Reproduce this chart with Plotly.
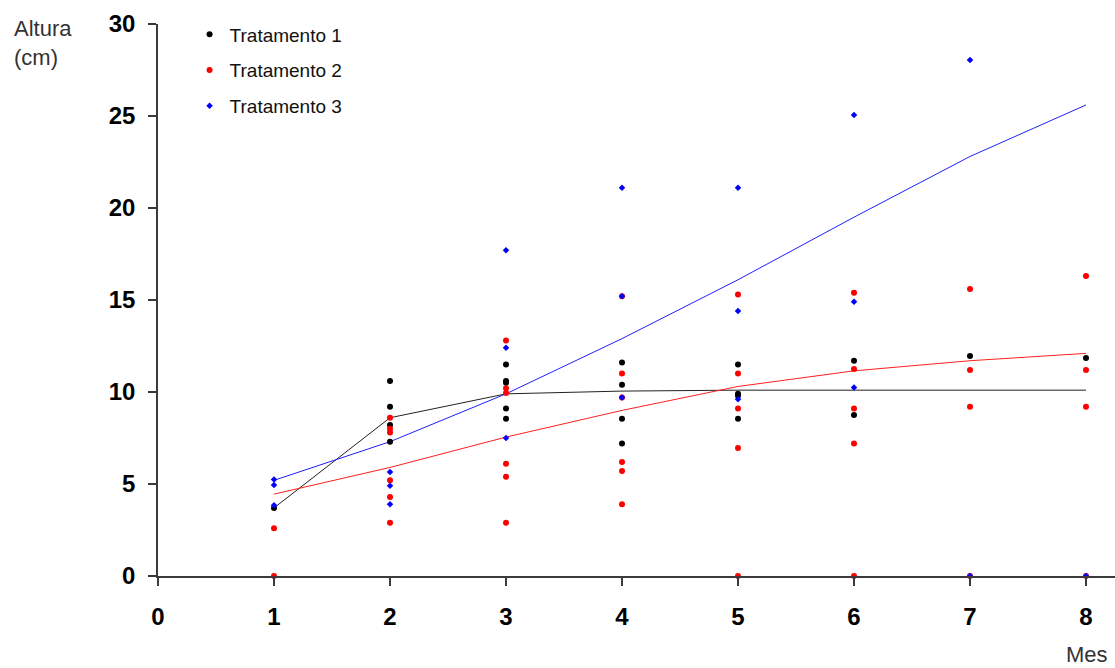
import plotly.graph_objects as go

# ---- data ----
months = [1, 2, 3, 4, 5, 6, 7, 8]

t1_x = [1, 2, 2, 2, 2, 3, 3, 3, 3, 3, 4, 4, 4, 4, 5, 5, 5, 5, 6, 6, 7, 8]
t1_y = [3.7, 10.6, 9.2, 8.2, 7.3, 11.5, 10.6, 10.5, 9.1, 8.55,
        11.6, 10.4, 8.55, 7.2, 11.5, 9.9, 9.8, 8.55, 11.7, 8.75, 11.95, 11.85]

t2_x = [1, 1, 2, 2, 2, 2, 2, 2, 3, 3, 3, 3, 3, 3, 4, 4, 4, 4, 4, 4,
        5, 5, 5, 5, 5, 6, 6, 6, 6, 6, 7, 7, 7, 7, 8, 8, 8, 8]
t2_y = [2.6, 0, 8.6, 8.0, 7.8, 5.2, 4.3, 2.9, 12.8, 10.2, 9.95, 6.1, 5.4, 2.9,
        15.2, 11.0, 9.7, 6.2, 5.7, 3.9, 15.3, 11.0, 9.1, 6.95, 0,
        15.4, 11.25, 9.1, 7.2, 0, 15.6, 11.2, 9.2, 0, 16.3, 11.2, 9.2, 0]

t3_x = [1, 1, 1, 2, 2, 2, 3, 3, 3, 4, 4, 4, 5, 5, 5, 6, 6, 6, 7, 7, 8]
t3_y = [5.25, 4.95, 3.85, 5.65, 4.9, 3.9, 17.7, 12.4, 7.5, 21.1, 15.2, 9.7,
        21.1, 14.4, 9.6, 25.05, 14.9, 10.25, 28.05, 0, 0]

fit1 = [3.7, 8.6, 9.9, 10.05, 10.1, 10.1, 10.1, 10.1]
fit2 = [4.45, 5.9, 7.55, 9.0, 10.3, 11.15, 11.7, 12.1]
fit3 = [5.2, 7.3, 9.9, 12.9, 16.1, 19.5, 22.8, 25.6]

x_ticks = [0, 1, 2, 3, 4, 5, 6, 7, 8]
y_ticks = [0, 5, 10, 15, 20, 25, 30]
names = ["Tratamento 1", "Tratamento 2", "Tratamento 3"]

fig = go.Figure()

# fitted lines
fig.add_trace(go.Scatter(x=months, y=fit1, mode="lines", line=dict(color="#222222", width=1),
                         showlegend=False, hoverinfo="skip", cliponaxis=False))
fig.add_trace(go.Scatter(x=months, y=fit2, mode="lines", line=dict(color="#ff2020", width=1),
                         showlegend=False, hoverinfo="skip", cliponaxis=False))
fig.add_trace(go.Scatter(x=months, y=fit3, mode="lines", line=dict(color="#2020ff", width=1),
                         showlegend=False, hoverinfo="skip", cliponaxis=False))

# points
fig.add_trace(go.Scatter(x=t1_x, y=t1_y, mode="markers", name=names[0], legendgroup="g1",
                         marker=dict(color="black", size=6, symbol="circle"), cliponaxis=False))
fig.add_trace(go.Scatter(x=t2_x, y=t2_y, mode="markers", name=names[1], legendgroup="g2",
                         marker=dict(color="#ff0000", size=6, symbol="circle"), cliponaxis=False))
fig.add_trace(go.Scatter(x=t3_x, y=t3_y, mode="markers", name=names[2], legendgroup="g3",
                         marker=dict(color="#0000ff", size=5, symbol="diamond"), cliponaxis=False))

axis_color = "#3a3a3a"
fig.update_layout(
    width=1115, height=668,
    margin=dict(l=158, r=0, t=24, b=92, autoexpand=False),
    paper_bgcolor="white", plot_bgcolor="white",
    font=dict(family="Liberation Sans, Arial, sans-serif", color="black"),
    xaxis=dict(range=[0, 8.25], tickvals=x_ticks, ticktext=[str(v) for v in x_ticks],
               showgrid=False, zeroline=False, showline=True, linecolor=axis_color, linewidth=1.5,
               ticks="outside", ticklen=8, tickcolor=axis_color, tickwidth=1.5,
               tickfont=dict(size=24, family="Liberation Sans, Arial, sans-serif", color="black", weight="bold"),
               ticklabelstandoff=10, automargin=False),
    yaxis=dict(range=[0, 30], tickvals=y_ticks, ticktext=[str(v) for v in y_ticks],
               showgrid=False, zeroline=False, showline=True, linecolor=axis_color, linewidth=1.5,
               ticks="outside", ticklen=8, tickcolor=axis_color, tickwidth=1.5,
               tickfont=dict(size=24, family="Liberation Sans, Arial, sans-serif", color="black", weight="bold"),
               ticklabelstandoff=8, automargin=False),
    legend=dict(x=0.033, y=1.0155, xanchor="left", yanchor="top", bgcolor="rgba(0,0,0,0)",
                font=dict(size=19, color="#111111"), traceorder="grouped", tracegroupgap=8,
                itemsizing="trace"),
    annotations=[
        dict(text="Altura<br>(cm)", xref="paper", yref="paper", x=-0.1526, y=1.018,
             xanchor="left", yanchor="top", align="left", showarrow=False,
             font=dict(size=22, color="#333333")),
        dict(text="Mes", xref="paper", yref="paper", x=0.9707, y=-0.143,
             xanchor="center", yanchor="middle", showarrow=False,
             font=dict(size=22, color="#333333")),
    ],
)

fig.write_html("out.html")
